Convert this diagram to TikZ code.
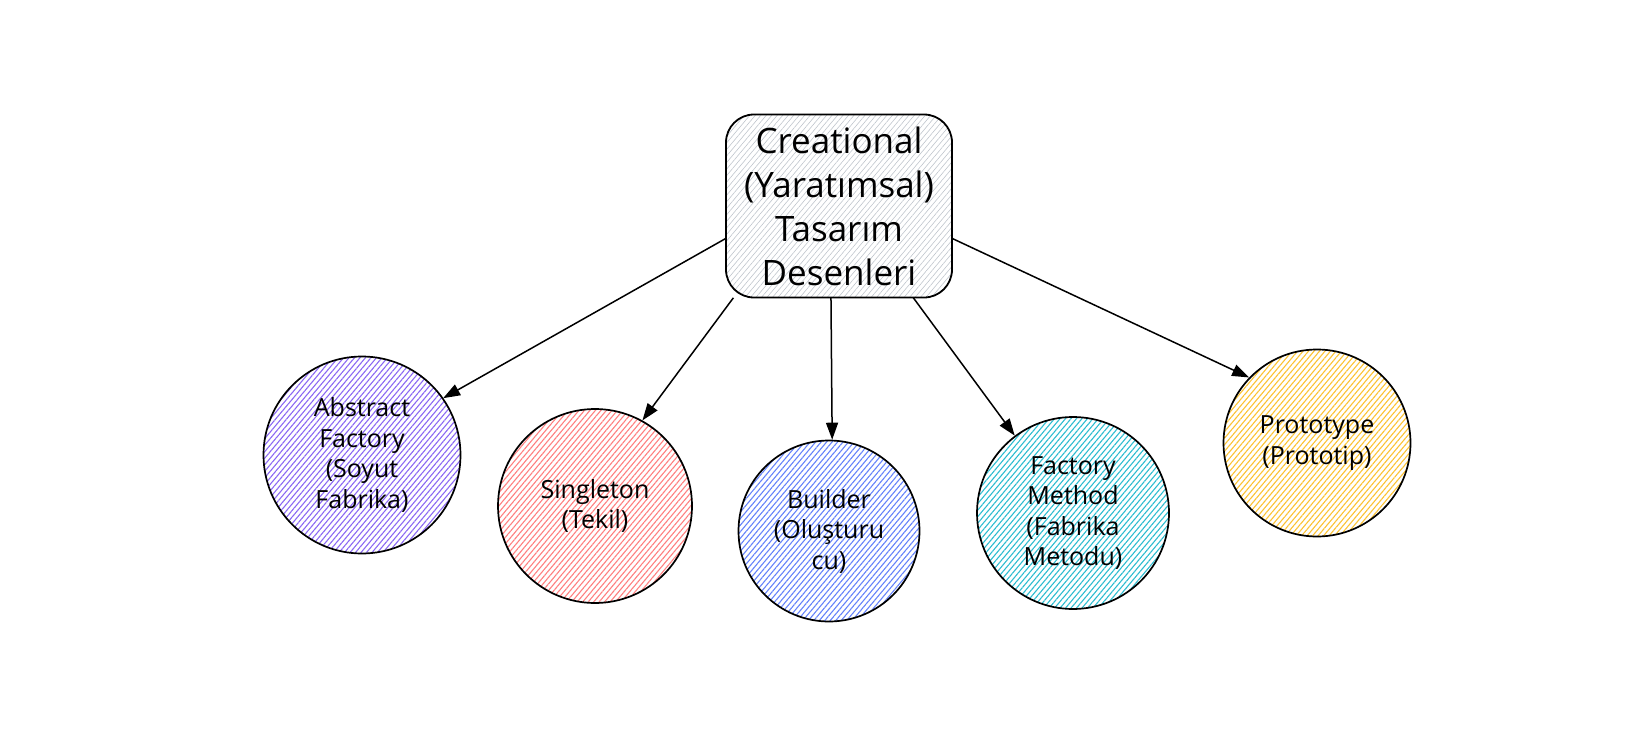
\documentclass[tikz,border=0pt]{standalone}
\usepackage{fontspec}
\setmainfont{Open Sans}
\usetikzlibrary{arrows.meta,patterns.meta}

\definecolor{hatchgray}{HTML}{BFC5CC}
\definecolor{hatchviolet}{HTML}{8A68F3}
\definecolor{hatchred}{HTML}{FF7F7F}
\definecolor{hatchblue}{HTML}{6482FA}
\definecolor{hatchteal}{HTML}{2CBCD0}
\definecolor{hatchyellow}{HTML}{FCC232}

\begin{document}
\begin{tikzpicture}[
  x=1pt, y=-1pt,
  hatch/.style={pattern={Lines[angle=50,distance=4.2pt,line width=1.1pt]}, pattern color=#1},
  root/.style={draw, line width=1.8pt, rounded corners=28pt, align=center, minimum width=226pt, minimum height=183pt, inner sep=0pt, font=\fontsize{35}{44}\selectfont, pattern={Lines[angle=50,distance=4.2pt,line width=0.6pt]}, pattern color=hatchgray},
  bubble/.style={circle, draw, line width=1.7pt, align=center, inner sep=0pt, font=\fontsize{25}{30.5}\selectfont},
  arrow/.style={-{Triangle[length=17pt,width=12pt]}, line width=1.5pt}
]
\useasboundingbox (0,0) rectangle (1641,741);

\node[root] (creational) at (839,206) {Creational\\(Yaratımsal)\\Tasarım\\Desenleri};

\node[bubble, hatch=hatchviolet, minimum size=197pt] (abstract) at (362,455) {Abstract\\Factory\\(Soyut\\Fabrika)};
\node[bubble, hatch=hatchred, minimum size=194pt] (singleton) at (595,506) {Singleton\\(Tekil)};
\node[bubble, hatch=hatchblue, minimum size=181pt] (builder) at (829,531) {Builder\\(Oluşturu\\cu)};
\node[bubble, hatch=hatchteal, minimum size=192pt] (factory) at (1073,513) {Factory\\Method\\(Fabrika\\Metodu)};
\node[bubble, hatch=hatchyellow, minimum size=187pt] (prototype) at (1317,443) {Prototype\\(Prototip)};

\draw[arrow] (creational.196) -- (abstract.35);
\draw[arrow] (creational.221) -- (singleton.61);
\draw[arrow] (creational.265) -- (builder.88);
\draw[arrow] (creational.309) -- (factory.127);
\draw[arrow] (creational.344) -- (prototype.136);
\end{tikzpicture}
\end{document}
